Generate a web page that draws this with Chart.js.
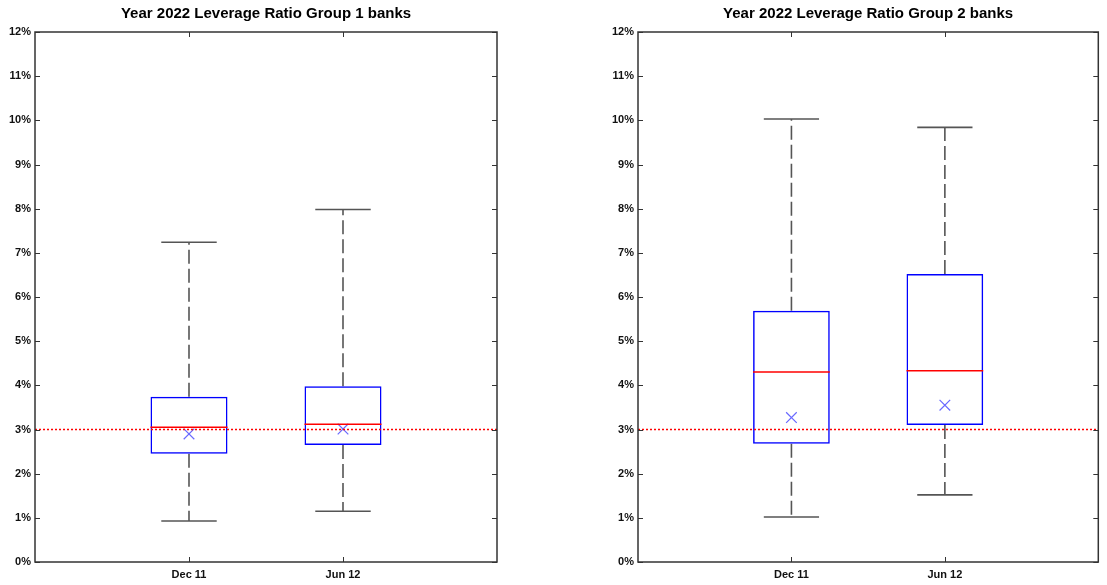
<!DOCTYPE html>
<html>
<head>
<meta charset="utf-8">
<script src="https://cdn.jsdelivr.net/npm/chart.js@4.4.1/dist/chart.umd.min.js"></script>
<style>
  html, body { margin: 0; padding: 0; background: #fff; }
  #wrap { position: relative; width: 1107px; height: 585px; }
  canvas { position: absolute; top: 0; }
</style>
</head>
<body>
<div id="wrap">
  <canvas id="chart1" width="553" height="585" style="left:0"></canvas>
  <canvas id="chart2" width="554" height="585" style="left:553px"></canvas>
</div>
<script>
// Категории и значения (в %)
const categories = ['Dec 11', 'Jun 12'];
const yTicks = [0, 1, 2, 3, 4, 5, 6, 7, 8, 9, 10, 11, 12];
const threshold = 3;

// Group 1
const g1Lower = [0.93, 1.15];
const g1Q1 = [2.45, 2.65];
const g1Median = [3.05, 3.12];
const g1Q3 = [3.74, 3.98];
const g1Upper = [7.24, 7.98];
const g1Mean = [2.90, 3.01];

// Group 2
const g2Lower = [1.02, 1.52];
const g2Q1 = [2.68, 3.10];
const g2Median = [4.30, 4.33];
const g2Q3 = [5.69, 6.52];
const g2Upper = [10.03, 9.84];
const g2Mean = [3.27, 3.55];

// пустые метки по краям, чтобы ящики стояли на 1/3 и 2/3 ширины
const xLabels = ['', ...categories, ''];
const pad = arr => [null, ...arr, null];

// Усы, медианы, рамка и внутренние риски
const boxPlotPlugin = {
  id: 'boxPlot',
  beforeDatasetsDraw(chart, args, s) {
    const { ctx, scales: { x, y } } = chart;
    const boxMeta = chart.getDatasetMeta(2);
    ctx.save();
    ctx.strokeStyle = '#555';
    ctx.lineWidth = 1.6;
    s.lower.forEach((lo, i) => {
      const px = x.getPixelForValue(i + 1);
      const half = boxMeta.data[i + 1].width * 0.36;
      ctx.setLineDash([14, 5]);
      ctx.beginPath();
      ctx.moveTo(px, y.getPixelForValue(s.q3[i]));
      ctx.lineTo(px, y.getPixelForValue(s.upper[i]));
      ctx.moveTo(px, y.getPixelForValue(s.q1[i]));
      ctx.lineTo(px, y.getPixelForValue(lo));
      ctx.stroke();
      ctx.setLineDash([]);
      ctx.beginPath();
      ctx.moveTo(px - half, y.getPixelForValue(s.upper[i]));
      ctx.lineTo(px + half, y.getPixelForValue(s.upper[i]));
      ctx.moveTo(px - half, y.getPixelForValue(lo));
      ctx.lineTo(px + half, y.getPixelForValue(lo));
      ctx.stroke();
    });
    ctx.restore();
  },
  afterDatasetsDraw(chart, args, s) {
    const { ctx, chartArea: a, scales: { x, y } } = chart;
    const boxMeta = chart.getDatasetMeta(2);
    ctx.save();
    ctx.strokeStyle = '#ff0000';
    ctx.lineWidth = 1.5;
    s.median.forEach((m, i) => {
      const el = boxMeta.data[i + 1];
      const py = y.getPixelForValue(m);
      ctx.beginPath();
      ctx.moveTo(el.x - el.width / 2, py);
      ctx.lineTo(el.x + el.width / 2, py);
      ctx.stroke();
    });

    // рамка
    ctx.strokeStyle = '#333';
    ctx.lineWidth = 1.5;
    ctx.strokeRect(a.left, a.top, a.right - a.left, a.bottom - a.top);

    // риски внутрь
    ctx.lineWidth = 1;
    ctx.beginPath();
    y.ticks.forEach(t => {
      const py = Math.round(y.getPixelForValue(t.value)) + 0.5;
      ctx.moveTo(a.left, py); ctx.lineTo(a.left + 5, py);
      ctx.moveTo(a.right - 5, py); ctx.lineTo(a.right, py);
    });
    categories.forEach((c, i) => {
      const px = Math.round(x.getPixelForValue(i + 1)) + 0.5;
      ctx.moveTo(px, a.bottom); ctx.lineTo(px, a.bottom - 5);
      ctx.moveTo(px, a.top); ctx.lineTo(px, a.top + 5);
    });
    ctx.stroke();
    ctx.restore();
  }
};

function makeChart(id, title, st, padLeft, padRight) {
  return new Chart(document.getElementById(id), {
    type: 'bar',
    data: {
      labels: xLabels,
      datasets: [
        {
          type: 'line',
          data: xLabels.map(() => threshold),
          borderColor: '#ff0000',
          borderWidth: 1.5,
          borderDash: [2, 2],
          pointRadius: 0
        },
        {
          type: 'line',
          data: pad(st.mean),
          showLine: false,
          pointStyle: 'crossRot',
          pointRadius: 7.5,
          borderColor: '#6a6aff',
          borderWidth: 1.2
        },
        {
          type: 'bar',
          data: xLabels.map((l, i) => (i === 0 || i === xLabels.length - 1) ? null : [st.q1[i - 1], st.q3[i - 1]]),
          backgroundColor: 'rgba(0,0,0,0)',
          borderColor: '#0000ff',
          borderWidth: 1.5,
          borderSkipped: false,
          categoryPercentage: 1,
          barPercentage: 0.5
        }
      ]
    },
    options: {
      responsive: false,
      animation: false,
      layout: { padding: { left: padLeft, right: padRight, top: 0, bottom: 0 } },
      scales: {
        x: {
          type: 'category',
          offset: false,
          grid: { display: false, drawTicks: false },
          border: { display: false },
          ticks: {
            autoSkip: false,
            maxRotation: 0,
            padding: 6,
            color: '#111',
            font: { family: 'Liberation Sans, Arial', size: 11, weight: 'bold' }
          },
          afterFit(scale) { scale.height = 23; }
        },
        y: {
          min: yTicks[0],
          max: yTicks[yTicks.length - 1],
          grid: { display: false, drawTicks: false },
          border: { display: false },
          ticks: {
            stepSize: 1,
            padding: 4,
            color: '#111',
            font: { family: 'Liberation Sans, Arial', size: 11, weight: 'bold' },
            callback: v => v + '%'
          },
          afterFit(scale) { scale.width = 35; }
        }
      },
      plugins: {
        legend: { display: false },
        tooltip: { enabled: false },
        title: {
          display: true,
          text: title,
          fullSize: false,
          color: '#000',
          font: { family: 'Liberation Sans, Arial', size: 15, weight: 'bold' },
          padding: { top: 5, bottom: 9 }
        },
        boxPlot: st
      }
    },
    plugins: [boxPlotPlugin]
  });
}

makeChart('chart1', 'Year 2022 Leverage Ratio Group 1 banks',
  { lower: g1Lower, q1: g1Q1, median: g1Median, q3: g1Q3, upper: g1Upper, mean: g1Mean }, 0, 56);
makeChart('chart2', 'Year 2022 Leverage Ratio Group 2 banks',
  { lower: g2Lower, q1: g2Q1, median: g2Median, q3: g2Q3, upper: g2Upper, mean: g2Mean }, 50, 7);
</script>
</body>
</html>
